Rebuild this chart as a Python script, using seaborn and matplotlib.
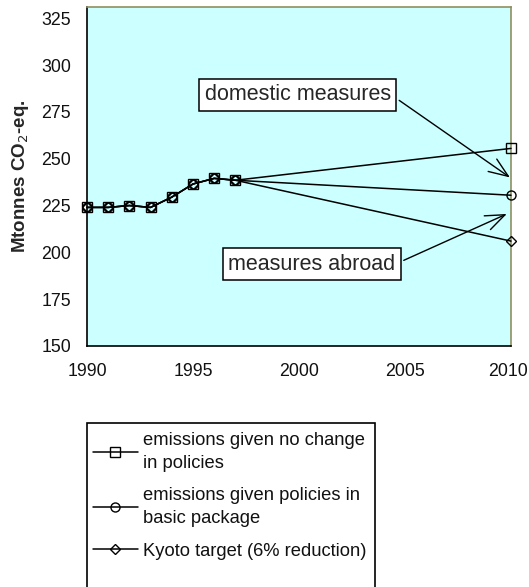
import matplotlib
matplotlib.use("Agg")
import matplotlib.pyplot as plt
import matplotlib.transforms as mtransforms
import seaborn as sns
import pandas as pd
from matplotlib.patches import Rectangle

# Historical emissions (Mtonnes CO2-eq.) and 2010 projections
years_hist = [1990, 1991, 1992, 1993, 1994, 1995, 1996, 1997]
emissions_hist = [224, 224, 225, 224, 229.5, 236.5, 239.5, 238.5]
year_target = 2010
proj_no_change = 255.5
proj_basic_package = 230.5
kyoto_target = 206

series_names = [
    "emissions given no change\nin policies",
    "emissions given policies in\nbasic package",
    "Kyoto target (6% reduction)",
]
series_end = [proj_no_change, proj_basic_package, kyoto_target]
series_markers = ["s", "o", "D"]
series_sizes = [6.5, 6.5, 5.5]

y_ticks = [150, 175, 200, 225, 250, 275, 300, 325]
x_ticks = [1990, 1995, 2000, 2005, 2010]

rows = []
for name, end in zip(series_names, series_end):
    for yr, val in zip(years_hist + [year_target], emissions_hist + [end]):
        rows.append({"year": yr, "value": val, "series": name})
df = pd.DataFrame(rows)

sns.set_style("white")
plt.rcParams["font.family"] = ["Liberation Sans", "DejaVu Sans"]

W, H = 529, 587
fig = plt.figure(figsize=(W / 100, H / 100), dpi=100)
fig.patch.set_facecolor("white")
ax = fig.add_axes([87 / W, 1 - 346 / H, (511 - 87) / W, (346 - 7) / H])
ax.set_facecolor("#CCFFFF")

for name, mk, ms in zip(series_names, series_markers, series_sizes):
    sub = df[df["series"] == name]
    sns.lineplot(data=sub, x="year", y="value", ax=ax, color="black",
                 linewidth=1.1, marker=mk, markersize=ms,
                 markerfacecolor="none", markeredgecolor="black",
                 markeredgewidth=1.0, label=name, legend=False)
for ln in ax.get_lines():
    ln.set_clip_on(False)
    ln.set_zorder(5)

ax.set_xlim(1990, 2010)
ax.set_ylim(150, 331)
ax.set_xticks(x_ticks)
ax.set_yticks(y_ticks)
ax.tick_params(axis="both", direction="inout", length=7, width=1.1,
               colors="black", labelsize=12.8, labelcolor="#111111")
ax.tick_params(axis="x", pad=9)
ax.tick_params(axis="y", pad=8)
ax.set_xlabel("")
ax.set_ylabel("Mtonnes CO$_2$-eq.", fontsize=13.5, fontweight="bold",
              labelpad=7)

# keep the last year label inside the figure edge
last_lbl = ax.get_xticklabels()[-1]
last_lbl.set_transform(last_lbl.get_transform() +
                       mtransforms.ScaledTranslation(-3 / 100, 0, fig.dpi_scale_trans))

for side in ["left", "bottom"]:
    ax.spines[side].set_color("black")
    ax.spines[side].set_linewidth(1.2)
for side in ["top", "right"]:
    ax.spines[side].set_color("#8F8F60")
    ax.spines[side].set_linewidth(1.2)

box = dict(boxstyle="square,pad=0.25", facecolor="white",
           edgecolor="black", linewidth=1.1)
arrow = dict(arrowstyle="->,head_length=0.9,head_width=0.35", color="black",
             linewidth=1.0, relpos=(1.0, 0.5), shrinkA=2, shrinkB=0)

ax.annotate("domestic measures", xy=(2009.95, 240), xytext=(1999.95, 284.2),
            ha="center", va="center", fontsize=15.5, bbox=box,
            arrowprops=arrow, zorder=6)
ax.annotate("measures abroad", xy=(2009.8, 220.5), xytext=(2000.6, 193.7),
            ha="center", va="center", fontsize=15.5, bbox=box,
            arrowprops=arrow, zorder=6)

# Legend frame runs off the bottom edge of the figure
fig.patches.append(Rectangle((87 / W, -0.01), (375 - 87) / W, 1 - 423 / H + 0.01,
                             transform=fig.transFigure, facecolor="white",
                             edgecolor="black", linewidth=1.2, zorder=0))
handles, labels = ax.get_legend_handles_labels()
leg = fig.legend(handles, labels, loc="upper left",
                 bbox_to_anchor=(89 / W, 1 - 428 / H), frameon=False,
                 fontsize=13.2, handlelength=2.45, handletextpad=0.3,
                 labelspacing=0.85, numpoints=1, borderaxespad=0,
                 borderpad=0.2)
for t in leg.get_texts():
    t.set_color("#111111")
    t.set_linespacing(1.45)

fig.savefig("out.png", dpi=100)
